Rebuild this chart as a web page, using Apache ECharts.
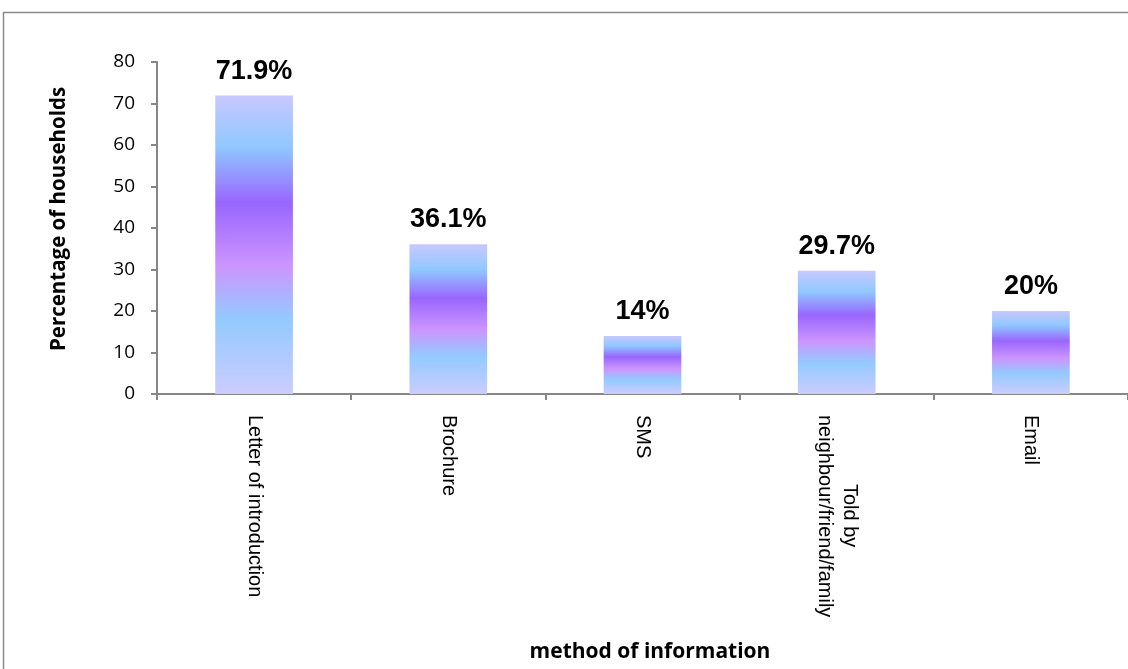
<!DOCTYPE html>
<html>
<head>
<meta charset="utf-8">
<script src="https://cdn.jsdelivr.net/npm/echarts@6/dist/echarts.min.js"></script>
<style>
  html, body { margin: 0; padding: 0; background: #fff; }
  #chart { width: 1128px; height: 669px; }
</style>
</head>
<body>
<div id="chart"></div>
<script>
// Methods by which households heard about the survey
const categories = [
  'Letter of introduction',
  'Brochure',
  'SMS',
  'Told by\nneighbour/friend/family',
  'Email'
];
const percentages = [71.9, 36.1, 14, 29.7, 20];
const yTicks = { min: 0, max: 80, interval: 10 };

const LABEL_FONT = 'Liberation Sans';
const LABEL_SIZE = 20;

// Multi-line category labels: centre each line over the longest one by
// giving it a measured left padding (one rich style per line).
const measureCtx = document.createElement('canvas').getContext('2d');
measureCtx.font = LABEL_SIZE + 'px "' + LABEL_FONT + '"';
const labelRich = {};
const labelText = {};
categories.forEach(function (cat, i) {
  const lines = cat.split('\n');
  const widths = lines.map(function (s) { return measureCtx.measureText(s).width; });
  const maxW = Math.max.apply(null, widths);
  labelText[cat] = lines.map(function (s, j) {
    const key = 'l' + i + '_' + j;
    labelRich[key] = {
      fontFamily: LABEL_FONT, fontSize: LABEL_SIZE, color: '#000', lineHeight: 25,
      padding: [0, 0, 0, Math.round((maxW - widths[j]) / 2)]
    };
    return '{' + key + '|' + s + '}';
  }).join('\n');
});

const barGradient = new echarts.graphic.LinearGradient(0, 0, 0, 1, [
  { offset: 0, color: '#c8c8ff' },
  { offset: 0.17, color: '#90c8ff' },
  { offset: 0.36, color: '#9966ff' },
  { offset: 0.57, color: '#cc95ff' },
  { offset: 0.75, color: '#93caff' },
  { offset: 1, color: '#ccccff' }
]);

const chart = echarts.init(document.getElementById('chart'));
chart.setOption({
  backgroundColor: '#fff',
  animation: false,
  graphic: [{
    type: 'rect',
    silent: true,
    shape: { x: 3.5, y: 12.5, width: 1300, height: 800 },
    style: { fill: 'none', stroke: '#8a8a8a', lineWidth: 1.5 }
  }],
  grid: { left: 157, top: 62, width: 985, height: 332 },
  xAxis: {
    type: 'category',
    data: categories,
    name: 'method of information',
    nameLocation: 'middle',
    nameGap: 248,
    nameTextStyle: {
      fontFamily: 'Open Sans', fontWeight: 'bold', fontSize: 21, color: '#000',
      padding: [0, 0, 0, 15]
    },
    axisLine: { lineStyle: { color: '#868686', width: 2 } },
    axisTick: { show: true, length: 6, alignWithLabel: false, lineStyle: { color: '#868686', width: 2 } },
    axisLabel: {
      rotate: -90,
      margin: 21,
      interval: 0,
      color: '#000',
      fontFamily: LABEL_FONT,
      fontSize: LABEL_SIZE,
      formatter: function (v) { return labelText[v]; },
      rich: labelRich
    }
  },
  yAxis: {
    type: 'value',
    min: yTicks.min,
    max: yTicks.max,
    interval: yTicks.interval,
    name: 'Percentage of households',
    nameLocation: 'middle',
    nameRotate: 90,
    nameGap: 87,
    nameTextStyle: {
      fontFamily: 'Open Sans', fontWeight: 'bold', fontSize: 20.5, color: '#000',
      padding: [0, 0, 0, 18]
    },
    splitLine: { show: false },
    axisLine: { show: true, lineStyle: { color: '#868686', width: 2 } },
    axisTick: { show: true, length: 6, lineStyle: { color: '#868686', width: 2 } },
    axisLabel: { margin: 22, color: '#000', fontFamily: 'Open Sans', fontSize: 19 }
  },
  series: [{
    type: 'bar',
    data: percentages,
    barWidth: '40%',
    itemStyle: { color: barGradient },
    label: {
      show: true,
      position: 'top',
      distance: 11,
      formatter: function (p) { return p.value + '%'; },
      fontFamily: LABEL_FONT,
      fontWeight: 'bold',
      fontSize: 27,
      color: '#000'
    }
  }]
});
</script>
</body>
</html>
